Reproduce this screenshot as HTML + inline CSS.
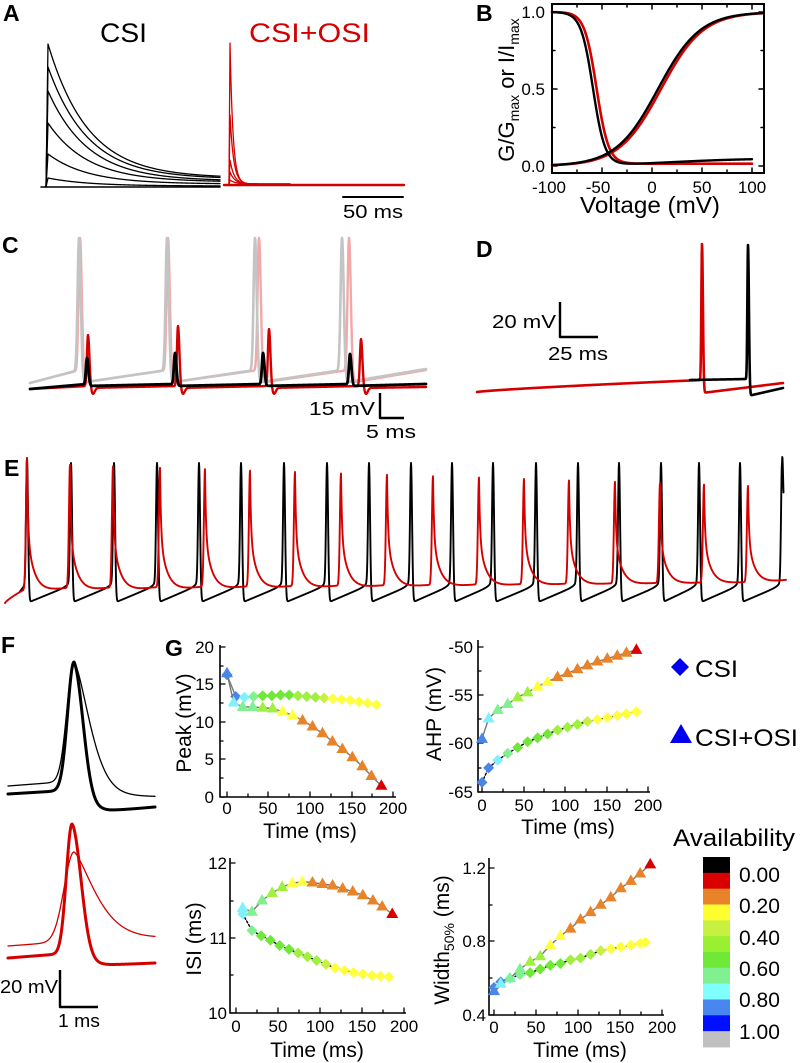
<!DOCTYPE html>
<html><head><meta charset="utf-8"><style>
html,body{margin:0;padding:0;background:#fff}
svg{display:block;font-family:"Liberation Sans",Arial,sans-serif}
.L{font-weight:bold;font-size:23px}
.t{font-size:17px}
.ti{font-size:21px}
</style></head><body>
<svg id="s" width="800" height="1063" viewBox="0 0 800 1063" xmlns="http://www.w3.org/2000/svg">
<rect width="800" height="1063" fill="#fff"/>
<g id="g"></g>
<text class="L" x="3" y="21">A</text>
<text class="L" x="476" y="21">B</text>
<text class="L" x="2" y="253">C</text>
<text class="L" x="476" y="257">D</text>
<text class="L" x="4" y="476">E</text>
<text class="L" x="1" y="653">F</text>
<text class="L" x="165" y="656">G</text>
<text x="100" y="42" font-size="27" textLength="47" lengthAdjust="spacingAndGlyphs">CSI</text>
<text x="249" y="42" font-size="27" fill="#d40000" textLength="121" lengthAdjust="spacingAndGlyphs">CSI+OSI</text>
<text x="343" y="218" font-size="18" textLength="60" lengthAdjust="spacingAndGlyphs">50 ms</text>
<g class="t" text-anchor="end">
<text x="545" y="18">1.0</text><text x="545" y="95">0.5</text><text x="545" y="172">0.0</text>
</g>
<g class="t" text-anchor="middle">
<text x="549" y="193">-100</text><text x="598" y="193">-50</text><text x="652" y="193">0</text><text x="702" y="193">50</text><text x="752" y="193">100</text>
</g>
<text x="650" y="213" font-size="23" text-anchor="middle" textLength="140" lengthAdjust="spacingAndGlyphs">Voltage (mV)</text>
<text transform="translate(514,90) rotate(-90)" font-size="22" text-anchor="middle">G/G<tspan font-size="14" dy="5">max</tspan><tspan dy="-5"> or I/I</tspan><tspan font-size="14" dy="5">max</tspan></text>
<text x="309" y="415" font-size="18" textLength="66" lengthAdjust="spacingAndGlyphs">15 mV</text>
<text x="366" y="438" font-size="18" textLength="50" lengthAdjust="spacingAndGlyphs">5 ms</text>
<text x="492" y="328" font-size="18" textLength="64" lengthAdjust="spacingAndGlyphs">20 mV</text>
<text x="548" y="360" font-size="18" textLength="60" lengthAdjust="spacingAndGlyphs">25 ms</text>
<text x="0" y="993" font-size="18" textLength="58" lengthAdjust="spacingAndGlyphs">20 mV</text>
<text x="58" y="1027" font-size="18" textLength="42" lengthAdjust="spacingAndGlyphs">1 ms</text>
<g class="t" text-anchor="end">
<text x="214" y="653">20</text><text x="214" y="690">15</text><text x="214" y="728">10</text><text x="214" y="765">5</text><text x="214" y="803">0</text>
<text x="473" y="653">-50</text><text x="473" y="701">-55</text><text x="473" y="749">-60</text><text x="473" y="798">-65</text>
<text x="227" y="869">12</text><text x="227" y="944">11</text><text x="227" y="1019">10</text>
<text x="486" y="874">1.2</text><text x="486" y="947">0.8</text><text x="486" y="1021">0.4</text>
</g>
<g class="t" text-anchor="middle">
<text x="227" y="814">0</text><text x="268" y="814">50</text><text x="310" y="814">100</text><text x="352" y="814">150</text><text x="393" y="814">200</text>
<text x="482" y="811">0</text><text x="524" y="811">50</text><text x="565" y="811">100</text><text x="607" y="811">150</text><text x="648" y="811">200</text>
<text x="236" y="1032">0</text><text x="278" y="1032">50</text><text x="320" y="1032">100</text><text x="362" y="1032">150</text><text x="404" y="1032">200</text>
<text x="494" y="1033">0</text><text x="536" y="1033">50</text><text x="578" y="1033">100</text><text x="620" y="1033">150</text><text x="662" y="1033">200</text>
</g>
<g class="ti" text-anchor="middle">
<text x="310" y="838">Time (ms)</text>
<text x="568" y="834">Time (ms)</text>
<text x="317" y="1057">Time (ms)</text>
<text x="580" y="1057">Time (ms)</text>
<text transform="translate(191,723) rotate(-90)">Peak (mV)</text>
<text transform="translate(441,714) rotate(-90)">AHP (mV)</text>
<text transform="translate(201,939) rotate(-90)">ISI (ms)</text>
<text transform="translate(449,940) rotate(-90)">Width<tspan font-size="14" dy="5">50%</tspan><tspan dy="-5"> (ms)</tspan></text>
</g>
<polygon points="680,658 689,667 680,676 671,667" fill="#0000ee"/>
<text x="695" y="677" font-size="24" textLength="43" lengthAdjust="spacingAndGlyphs">CSI</text>
<polygon points="681,724 692,743 670,743" fill="#0000ee"/>
<text x="695" y="746" font-size="24" textLength="103" lengthAdjust="spacingAndGlyphs">CSI+OSI</text>
<text x="673" y="846" font-size="24" textLength="122" lengthAdjust="spacingAndGlyphs">Availability</text>
<g id="cb"></g>
<g font-size="21">
<text x="739" y="882">0.00</text><text x="739" y="913">0.20</text><text x="739" y="945">0.40</text><text x="739" y="976">0.60</text><text x="739" y="1007">0.80</text><text x="739" y="1039">1.00</text>
</g>
</svg>
<script>
const NS='http://www.w3.org/2000/svg',G=document.getElementById('g');
function add(tag,a,par){const e=document.createElementNS(NS,tag);for(const k in a)e.setAttribute(k,a[k]);(par||G).appendChild(e);return e;}
function line(pts,c,w,ex){const d='M'+pts.map(p=>p[0].toFixed(2)+','+p[1].toFixed(2)).join('L');const a={d:d,fill:'none',stroke:c,'stroke-width':w,'stroke-linejoin':'round','stroke-linecap':'round'};Object.assign(a,ex||{});return add('path',a);}
function samp(f,x0,x1,dx){dx=dx||0.5;const p=[];for(let x=x0;x<=x1+1e-9;x+=dx)p.push([x,f(x)]);return p;}
const RED='#d40000';
const cbc=['#000','#d80000','#e8832a','#ffff30','#c8f040','#98f030','#70e838','#80f090','#80ffff','#4a86f0','#0010ff','#c0c0c0'];
cbc.forEach((c,i)=>add('rect',{x:703,y:857+i*15.83,width:27,height:16.3,fill:c},document.getElementById('cb')));
line([[41,187],[220,187]],'#000',1.6);
[44,67,91,123,154,178].forEach((p,i)=>{const ss=[9,8,6,5,3,1][i];const pts=[[46,187],[48,p]];for(let x=48.5;x<=220;x+=0.5)pts.push([x,187-ss-(187-ss-p)*Math.exp(-(x-48)/40)]);line(pts,'#000',1.3);});
line([[224,185],[404,185]],RED,2.4);
[43,115,160,172,180].forEach((p,i)=>{const pts=[[229,185],[230,p]];for(let x=230.5;x<=290;x+=0.5)pts.push([x,184-(184-p)*Math.exp(-(x-230)/(3+i*0.6))]);line(pts,RED,1.3);});
line([[343,197],[403,197]],'#000',2);
(function(){
const X=v=>652+v,Y=g=>166-154*g;
add('rect',{x:552,y:4,width:212,height:169,fill:'none',stroke:'#000','stroke-width':2});
for(let v=-100;v<=100;v+=25){const L=(v%50===0)?5:3;line([[X(v),173],[X(v),173-L]],'#000',1.5);line([[X(v),4],[X(v),4+L]],'#000',1.5);}
for(let g=0;g<=1.001;g+=0.25){const L=(Math.abs(g*2-Math.round(g*2))<1e-6)?5:3;line([[552,Y(g)],[552+L,Y(g)]],'#000',1.5);line([[764,Y(g)],[764-L,Y(g)]],'#000',1.5);}
const act=(v,s)=>1/(1+Math.exp(-(v-6-s)/21));
const inB=v=>{const h=1/(1+Math.exp((v+59)/6));const r=0.05/(1+Math.exp(-(v-20)/40));return h+r*(1-h);};
const inR=v=>{const h=1/(1+Math.exp((v+55.5)/6));return h+0.015*(1-h);};
line(samp(v=>Y(inR(v)),-100,100,0.5).map(p=>[X(p[0]),p[1]]),RED,2.6);
line(samp(v=>Y(act(v,3)),-100,111,0.5).map(p=>[X(p[0]),p[1]]),RED,2.6);
line(samp(v=>Y(inB(v)),-100,100,0.5).map(p=>[X(p[0]),p[1]]),'#000',2.4);
line(samp(v=>Y(act(v,0)),-100,111,0.5).map(p=>[X(p[0]),p[1]]),'#000',2.4);
})();
function train(o){
 const S=o.S,P=o.P;
 const tr=i=>Array.isArray(o.trough)?o.trough[i]:o.trough;
 const pr=i=>Array.isArray(o.pre)?o.pre[i]:o.pre;
 return samp(x=>{
  let i=-1;for(let j=0;j<S.length;j++)if(S[j]<=x)i=j;
  const nS=i+1<S.length?S[i+1]:null;
  const t0=i>=0?S[i]:o.x0,y0=i>=0?tr(i):o.y0;
  let base;
  if(nS!==null){const p=(x-t0)/(nS-t0);base=y0+(pr(i+1)-y0)*Math.pow(p,o.pw||1);}
  else{const p=Math.min(1,(x-t0)/Math.max(1,(o.x1-t0)));base=y0+(o.endY-y0)*p;}
  let y=base;
  if(i>=0)y-=(tr(i)-P[i])*o.fall(x-S[i]);
  if(nS!==null){y-=(pr(i+1)-P[i+1])*Math.exp(-Math.pow((nS-x)/o.wr,2));if(o.up)y-=o.up*Math.exp(-(nS-x)/(o.upw||3))*(1-Math.exp(-Math.pow((nS-x)/o.wr,2)));}
  if(o.under&&i>=0)y+=o.under(x-S[i]);
  return y;
 },o.x0,o.x1,o.dx||0.25);
}
const gs=w=>d=>Math.exp(-Math.pow(d/w,2));
line(train({S:[80,168,259,349],P:[238,238,238,238],x0:30,y0:383,pre:370,trough:383,endY:370,x1:426,wr:2,fall:gs(2.6)}),'#f2a8a8',2.4);
line(train({S:[79,167,255,342],P:[238,238,238,238],x0:30,y0:383,pre:370,trough:383,endY:369,x1:426,wr:2,fall:gs(2.5)}),'#c4c4c4',2.6);
line(train({S:[88,178,269,361],P:[335,326,329,339],x0:30,y0:389,pre:386,trough:388,endY:387,x1:426,wr:1.5,fall:gs(2),under:d=>6*Math.exp(-Math.pow((d-5)/2.5,2))}),RED,2.4);
line(train({S:[87,175,263,350],P:[358,353,353,354],x0:30,y0:389,pre:384,trough:386,endY:384,x1:426,wr:1.5,fall:gs(2)}),'#000',2.8);
line([[380,393],[380,418],[404,418]],'#000',2.4,{'stroke-linecap':'butt'});
line(train({S:[702],P:[244],x0:477,y0:392,pre:380,trough:393,endY:383,x1:783,wr:0.9,fall:gs(1.3),pw:0.8}),RED,2.6);
line(train({S:[748],P:[245],x0:690,y0:380,pre:379,trough:396,endY:388,x1:783,wr:0.9,fall:gs(1.3)}),'#000',2.6);
line([[560,302],[560,337],[598,337]],'#000',2.4,{'stroke-linecap':'butt'});
(function(){
const SB=[27,71,114,157,199,241,284,327,369,411,452,493,536,578,619,661,699,740,782];
const PB=SB.map((s,i)=>i===0?458:463);
const SR=[27,70,113,160,205,250,295,341,387,433,479,524,569,615,660,704,748];
const PR=SR.map((s,i)=>i===0?458:465+(486-465)*(i-1)/15);
const TR=SR.map((s,i)=>595-10*i/16), PRE=SR.map((s,i)=>588-6*i/16);
line(train({S:SB,P:PB,x0:20,y0:592,pre:585,trough:603,endY:540,x1:783.6,wr:1.3,fall:gs(1.5),up:6,upw:3}),'#000',1.9);
line(train({S:SR,P:PR,x0:5,y0:603,pre:PRE,trough:TR,endY:580,x1:786,wr:1.5,fall:d=>0.55*Math.exp(-d/1.0)+0.45*Math.exp(-d/7),pw:0.8}),RED,1.9);
})();
(function(){
function sp(px,pk,bL,bR,wr,fall,x0,x1){return samp(x=>{if(x<px){const b=bL(x);return b-(bL(px)-pk)*Math.exp(-Math.pow((px-x)/wr,2));}const b=bR(x);return b-(bR(px)-pk)*fall(x-px);},x0,x1,0.25);}
line(sp(74,662,x=>786-5*(x-8)/66,x=>781+16*(1-Math.exp(-(x-74)/25)),10,d=>Math.exp(-Math.pow(d/22,1.6)),8,155),'#000',1.3);
line(sp(74,662,x=>794-4*(x-8)/66,x=>790+21*(1-Math.exp(-(x-74)/12))-4*Math.max(0,(x-110)/45),9,d=>Math.exp(-Math.pow(d/13,2)),8,155),'#000',3);
line(sp(74,852,x=>946-5*(x-8)/66,x=>941-3*(x-74)/81,14,d=>Math.exp(-Math.pow(d/30,1.4)),8,155),RED,1.3);
line(sp(72,824,x=>958-5*(x-8)/64,x=>953+12*(1-Math.exp(-(x-72)/12))-2*Math.max(0,(x-110)/45),8,d=>Math.exp(-Math.pow(d/13,2)),8,155),RED,3);
line([[60,970],[60,1007],[98,1007]],'#000',2.4,{'stroke-linecap':'butt'});
})();
const C={cb:'#4a86e8',cy:'#80f0ff',lg:'#80f090',gr:'#70e838',yg:'#a0f040',y2:'#c8f040',ye:'#ffff40',or:'#e8832a',rd:'#d80000'};
const dCol=['cb','cy','lg','gr','gr','gr','gr','yg','yg','yg','y2','ye','ye','ye','ye','ye','ye'];
const tCol=['cb','cy','lg','lg','yg','yg','ye','ye','or','or','or','or','or','or','or','or','rd'];
function axes(xa,ya,yt,xr,ticksX,ticksY){
 line([[xa,yt],[xa,ya],[xr,ya]],'#000',1.6,{'stroke-linecap':'butt'});
 ticksX.forEach((x,i)=>line([[x,ya],[x,ya-(i%2?3:5)]],'#000',1.3));
 ticksY.forEach((y,i)=>line([[xa,y],[xa+(i%2?3:5),y]],'#000',1.3));
}
function series(X,Y,T,V,cols,shape,lc,dash){
 line(T.map((t,i)=>[X(t),Y(V[i])]),lc,1.4,dash?{'stroke-dasharray':dash}:{});
 T.forEach((t,i)=>{const x=X(t),y=Y(V[i]),c=C[cols[Math.min(i,cols.length-1)]];
  if(shape==='d')add('polygon',{points:`${x},${y-5.5} ${x+5.5},${y} ${x},${y+5.5} ${x-5.5},${y}`,fill:c});
  else add('polygon',{points:`${x},${y-6.5} ${x+6},${y+4} ${x-6},${y+4}`,fill:c});});
}
const TD=[0,10.5,21,32,43,54,64.5,75,85.5,96,106.5,117,127.5,138,148.5,159,169.5,180];
const TT=[0,8,19,31,43,55,67,79,91,103,115,127,139,151,163,174,186];
const dc18=['cb'].concat(dCol);
(function(){const X=t=>227+t*0.83,Y=v=>797-v*7.5;
axes(220,797,645,396,[227,248,268,289,310,331,352,372,393],[797,778,759,741,722,703,684,666,647]);
series(X,Y,TD,[16.3,13.4,13.3,13.4,13.5,13.5,13.6,13.6,13.5,13.4,13.3,13.2,13.1,13.0,12.9,12.7,12.5,12.3],dc18,'d','#777');
series(X,Y,TT,[16.5,12.6,12.0,12.0,11.9,11.8,11.4,10.9,10.2,9.4,8.5,7.4,6.4,5.3,4.1,2.8,1.5],tCol,'t','#777');
})();
(function(){const X=t=>482+t*0.83,Y=v=>647+(-50-v)*9.667;
axes(478,792,640,650,[482,503,524,544,565,586,607,627,648],[792,768,743,719,695,671,647]);
series(X,Y,TT,[-64,-62.5,-61.7,-61.0,-60.4,-59.8,-59.4,-59.0,-58.6,-58.3,-58.0,-57.7,-57.5,-57.3,-57.1,-56.9,-56.7],['cb'].concat(dCol).slice(0,17),'d','#000','2,2');
series(X,Y,TT,[-59.5,-57.4,-56.5,-55.9,-55.2,-54.7,-54.1,-53.6,-53.1,-52.7,-52.3,-51.9,-51.5,-51.2,-50.9,-50.6,-50.3],tCol,'t','#777');
})();
(function(){const X=t=>236+t*0.84,Y=v=>1013-(v-10)*75;
axes(230,1013,858,406,[236,257,278,299,320,341,362,383,404],[1013,975,938,901,863]);
const t=[8,19,30,41,52,63,74,85,96,107,118,129,140,151,162,172,182];
series(X,Y,t,[11.32,11.1,11.03,10.97,10.9,10.85,10.8,10.75,10.7,10.65,10.6,10.57,10.54,10.52,10.5,10.49,10.48],dCol.slice(1),'d','#000','2,2');
series(X,Y,[8,19,31,43,55,67,79,91,103,115,127,139,151,163,174,186],[11.4,11.35,11.5,11.6,11.68,11.73,11.75,11.74,11.72,11.7,11.66,11.62,11.57,11.5,11.42,11.32],tCol.slice(1),'t','#777');
})();
(function(){const X=t=>494+t*0.84,Y=v=>1015-(v-0.4)*183.75;
axes(489,1015,858,664,[494,515,536,557,578,599,620,641,662],[1015,978,941,905,868]);
series(X,Y,[0,8,19,31,43,55,67,79,91,103,115,127,139,151,163,174,180],[0.55,0.58,0.6,0.62,0.63,0.65,0.67,0.68,0.7,0.71,0.73,0.75,0.76,0.77,0.78,0.79,0.795],['cb'].concat(dCol).slice(0,17),'d','#000','2,2');
series(X,Y,TT,[0.53,0.57,0.6,0.65,0.69,0.72,0.78,0.83,0.87,0.92,0.96,1.0,1.04,1.09,1.13,1.17,1.22],tCol,'t','#777');
})();
</script>
</body></html>
